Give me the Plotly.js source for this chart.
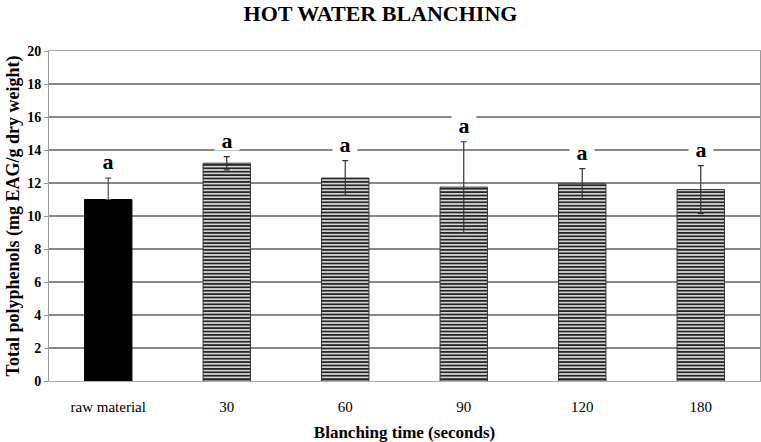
<!DOCTYPE html>
<html>
<head>
<meta charset="utf-8">
<script src="https://cdn.plot.ly/plotly-3.0.1.min.js"></script>
<style>
  html, body { margin: 0; padding: 0; background: #fff; }
  #chart { width: 761px; height: 442px; }
</style>
</head>
<body>
<div id="chart"></div>
<script>
// Total polyphenols after hot water blanching
const categories = ["raw material", "30", "60", "90", "120", "180"];
const means = [11.0, 13.2, 12.3, 11.75, 11.95, 11.6];
const errors = [1.3, 0.4, 1.05, 2.75, 0.92, 1.45];
const letters = ["a", "a", "a", "a", "a", "a"];

const serif = "Liberation Serif, Times New Roman, serif";

// raw material is solid black, the blanched samples are striped
// (lower whisker of the raw bar is hidden inside the black bar)
const rawTrace = {
  type: "bar",
  x: categories.slice(0, 1),
  y: means.slice(0, 1),
  error_y: { type: "data", symmetric: false, array: errors.slice(0, 1), arrayminus: [0], color: "#555", thickness: 1.2, width: 3 },
  marker: { color: "#000", line: { color: "#000", width: 1 } },
  width: 0.4,
  hoverinfo: "skip"
};

const blanchTrace = {
  type: "bar",
  x: categories.slice(1),
  y: means.slice(1),
  error_y: { type: "data", array: errors.slice(1), color: "#333", thickness: 1.2, width: 3 },
  marker: {
    color: "#cfcfcf",
    line: { color: "#333", width: 1 },
    pattern: { shape: "-", fgcolor: "#111", bgcolor: "#d4d4d4", size: 3.4, solidity: 0.45 }
  },
  width: 0.4,
  hoverinfo: "skip"
};

// significance letters above the error bars (x given as category index)
// white box behind each letter breaks the gridline like in the original
const annotations = categories.map((c, i) => ({
  x: i,
  y: means[i] + errors[i],
  yanchor: "middle",
  yshift: 16.5,
  width: 24,
  height: 19,
  text: "<b>" + letters[i] + "</b>",
  showarrow: false,
  bgcolor: "#fff",
  borderpad: 0,
  font: { family: serif, size: 22, color: "#000" }
}));

const layout = {
  width: 761,
  height: 442,
  margin: { l: 49, r: 1, t: 51, b: 61 },
  paper_bgcolor: "#fff",
  plot_bgcolor: "#fff",
  showlegend: false,
  barmode: "overlay",
  title: {
    text: "<b>HOT WATER BLANCHING</b>",
    x: 0.5, xanchor: "center",
    y: 0.988, yanchor: "top",
    font: { family: serif, size: 22, color: "#000" }
  },
  xaxis: {
    type: "category",
    categoryorder: "array",
    categoryarray: categories,
    range: [-0.5, categories.length - 0.5],
    showgrid: false,
    showline: true,
    linecolor: "#aaa",
    mirror: true,
    ticks: "",
    tickangle: 0,
    ticklabelstandoff: 12,
    tickfont: { family: serif, size: 15, color: "#000" },
    title: {
      text: "<b>Blanching time (seconds)</b>",
      standoff: 14,
      font: { family: serif, size: 17, color: "#000" }
    }
  },
  yaxis: {
    range: [0, 20],
    dtick: 2,
    showgrid: true,
    gridcolor: "#888",
    gridwidth: 1.3,
    zeroline: false,
    showline: true,
    linecolor: "#999",
    mirror: true,
    ticks: "outside",
    ticklen: 4,
    tickcolor: "#999",
    tickfont: { family: serif, size: 14, color: "#000", weight: "bold" },
    title: {
      text: "<b>Total polyphenols (mg EAG/g dry weight)</b>",
      standoff: 2,
      font: { family: serif, size: 18, color: "#000" }
    }
  },
  annotations: annotations
};

Plotly.newPlot("chart", [rawTrace, blanchTrace], layout, { displayModeBar: false, staticPlot: true });
</script>
</body>
</html>
